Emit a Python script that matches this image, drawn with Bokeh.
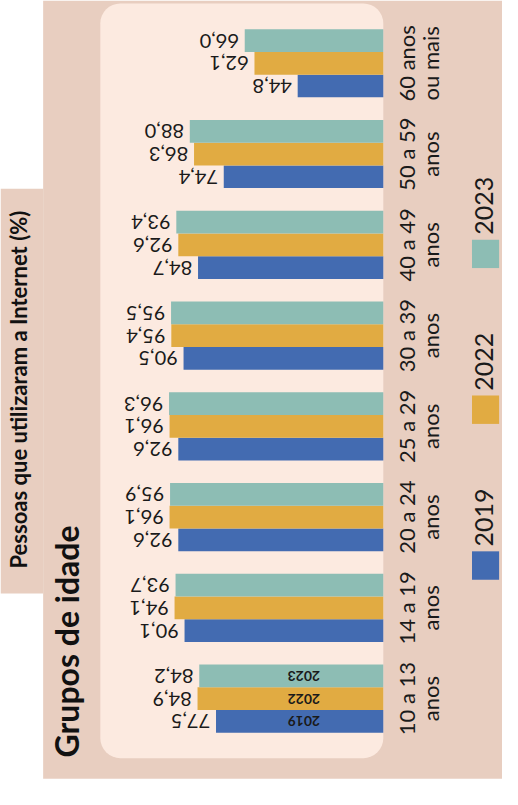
import math
from bokeh.plotting import figure
from bokeh.models import Range1d, ColumnDataSource
from bokeh.core.properties import value
from bokeh.transform import dodge
from bokeh.embed import file_html
from bokeh.resources import INLINE

# ---------------- data ----------------
groups = ["10 a 13\nanos", "14 a 19\nanos", "20 a 24\nanos", "25 a 29\nanos",
          "30 a 39\nanos", "40 a 49\nanos", "50 a 59\nanos", "60 anos\nou mais"]
years = ["2019", "2022", "2023"]
v2019 = [77.5, 90.1, 92.6, 92.6, 90.5, 84.7, 74.4, 44.8]
v2022 = [84.9, 94.1, 96.1, 96.1, 95.4, 92.6, 86.3, 62.1]
v2023 = [84.2, 93.7, 95.9, 96.3, 95.5, 93.4, 88.0, 66.0]
title_groups = "Grupos de idade"
title_values = "Pessoas que utilizaram a Internet (%)"

# ---------------- style ----------------
colors = ["#436BB1", "#E1AB42", "#8DBDB4"]
PINK = "#E8CEC0"
PANEL = "#FCEAE0"
INK = "#1a1a1a"
FONT = value("Lato")

W, H = 502, 789            # figure size (page has 8px margin)
REF_W, REF_H = 518, 805     # reference pixel space used for decoration
VAL0_PX, PX_PER_VAL = 422.1, 2.577   # value axis mapping (value 0 -> px)
G0_PX, G_STEP = 712.3, 92.6          # group axis mapping
AXIS_START = (VAL0_PX - 395) / PX_PER_VAL   # value at the panel edge (bar base)
BAR_H = 0.25
LABEL_GAP = 6 / PX_PER_VAL

p = figure(width=W, height=H, output_backend="svg", toolbar_location=None,
           x_range=Range1d(VAL0_PX / PX_PER_VAL, (VAL0_PX - REF_W) / PX_PER_VAL),
           y_range=Range1d((G0_PX - REF_H) / G_STEP, G0_PX / G_STEP),
           x_axis_location=None, y_axis_location=None, min_border=0,
           background_fill_color="white", border_fill_color="white",
           outline_line_color=None)
p.grid.visible = False
p.extra_x_ranges = {"px": Range1d(0, REF_W)}
p.extra_y_ranges = {"px": Range1d(REF_H, 0)}

# ---------------- backgrounds ----------------
p.quad(left=[44], right=[REF_W], top=[0], bottom=[794], fill_color=PINK,
       line_color=None, x_range_name="px", y_range_name="px")
p.quad(left=[0], right=[44], top=[192], bottom=[605], fill_color=PINK,
       line_color=None, x_range_name="px", y_range_name="px")
p.quad(left=[103], right=[395], top=[3], bottom=[773], fill_color=PANEL,
       line_color=None, border_radius=20, x_range_name="px", y_range_name="px")

# ---------------- bars ----------------
series = [v2019, v2022, v2023]
gidx = list(range(len(groups)))
for j, (vals, col, yr) in enumerate(zip(series, colors, years)):
    ys = [g + (j - 1) * BAR_H for g in gidx]
    src = ColumnDataSource(dict(y=ys, v=vals,
                                lab=[f"{x:.1f}".replace(".", ",") for x in vals]))
    p.hbar(y="y", left=AXIS_START, right="v", height=BAR_H, source=src,
           fill_color=col, line_color=None)
    p.text(x=dodge("v", LABEL_GAP), y="y", text="lab", source=src,
           angle=math.pi, text_align="left", text_baseline="middle",
           text_font=FONT, text_font_size="20px", text_color=INK)

# in-bar year labels (first group)
p.text(x=[313] * 3, y=[(j - 1) * BAR_H for j in range(3)], text=years,
       angle=math.pi, text_align="center", text_baseline="middle",
       text_font=FONT, text_font_size="14px", text_font_style="bold",
       text_color=INK, x_range_name="px")

# category labels (two centred lines each)
line1 = [g.split("\n")[0] for g in groups]
line2 = [g.split("\n")[1] for g in groups]
p.text(x=[419] * len(groups), y=gidx, text=line1, angle=math.pi / 2,
       text_align="center", text_baseline="middle", text_font=FONT,
       text_font_size="22px", text_color=INK, x_range_name="px")
p.text(x=[444] * len(groups), y=gidx, text=line2, angle=math.pi / 2,
       text_align="center", text_baseline="middle", text_font=FONT,
       text_font_size="22px", text_color=INK, x_range_name="px")

# legend (rotated)
leg_sq_y = [576.5, 417.5, 258.5]
p.rect(x=[500.5] * 3, y=leg_sq_y, width=28, height=29, fill_color=colors,
       line_color=None, x_range_name="px", y_range_name="px")
p.text(x=[498.5] * 3, y=[yy - 49 for yy in leg_sq_y], text=years,
       angle=math.pi / 2, text_align="center", text_baseline="middle",
       text_font=FONT, text_font_size="25px", text_color=INK,
       x_range_name="px", y_range_name="px")

# titles
p.text(x=[68], y=[654], text=[title_groups], angle=math.pi / 2,
       text_align="center", text_baseline="middle", text_font=FONT,
       text_font_size="32px", text_font_style="bold", text_color="#111111",
       x_range_name="px", y_range_name="px")
p.text(x=[19], y=[397], text=[title_values], angle=math.pi / 2,
       text_align="center", text_baseline="middle", text_font=FONT,
       text_font_size="22px", text_font_style="bold", text_color="#111111",
       x_range_name="px", y_range_name="px")

open("out.html", "w").write(file_html(p, INLINE))
